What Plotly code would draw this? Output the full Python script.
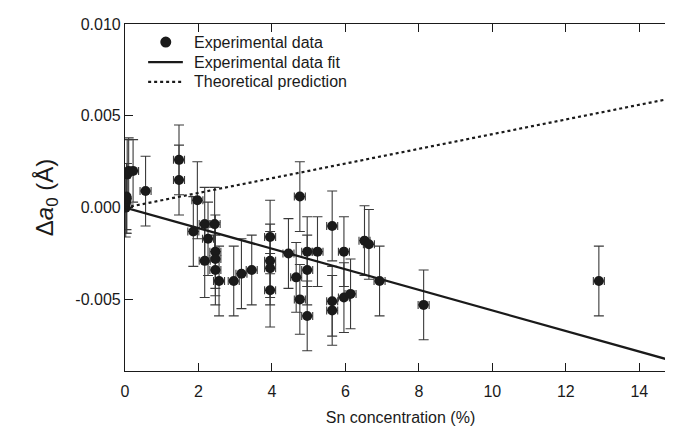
import plotly.graph_objects as go

# Experimental data (Sn concentration %, delta a0 in Angstrom, errors)
sn_conc = [0.02, 0.03, 0.04, 0.05, 0.06, 0.10, 0.22, 0.56, 1.47, 1.47,
           1.97, 1.86, 2.17, 2.26, 2.17, 2.44, 2.46, 2.46, 2.46, 2.56,
           2.96, 3.17, 3.45, 3.95, 3.95, 3.95, 3.95, 4.45, 4.66, 4.76,
           4.76, 4.96, 4.96, 4.96, 5.24, 5.64, 5.64, 5.64, 5.96, 5.96,
           6.14, 6.52, 6.64, 6.93, 8.13, 12.90]
delta_a0 = [0.0000, 0.0003, 0.0006, 0.0005, 0.0018, 0.0020, 0.0020, 0.0009, 0.0026, 0.0015,
            0.0004, -0.0013, -0.0009, -0.0017, -0.0029, -0.0009, -0.0024, -0.0028, -0.0034, -0.0040,
            -0.0040, -0.0036, -0.0034, -0.0016, -0.0029, -0.0033, -0.0045, -0.0025, -0.0038, 0.0006,
            -0.0050, -0.0024, -0.0034, -0.0059, -0.0024, -0.0010, -0.0051, -0.0056, -0.0024, -0.0049,
            -0.0047, -0.0018, -0.0020, -0.0040, -0.0053, -0.0040]
y_err = [0.0016, 0.0017, 0.0018, 0.0019, 0.0019, 0.0018, 0.0017, 0.0019, 0.0019, 0.0019,
         0.0021, 0.0019, 0.0020, 0.0020, 0.0020, 0.0020, 0.0020, 0.0020, 0.0019, 0.0019,
         0.0019, 0.0019, 0.0019, 0.0020, 0.0020, 0.0020, 0.0020, 0.0019, 0.0019, 0.0019,
         0.0019, 0.0019, 0.0019, 0.0019, 0.0019, 0.0019, 0.0019, 0.0019, 0.0019, 0.0019,
         0.0019, 0.0019, 0.0019, 0.0019, 0.0019, 0.0019]
x_err = [0.05, 0.05, 0.05, 0.05, 0.05, 0.05, 0.15, 0.15, 0.15, 0.15,
         0.15, 0.15, 0.15, 0.15, 0.15, 0.15, 0.15, 0.15, 0.15, 0.15,
         0.15, 0.15, 0.15, 0.15, 0.15, 0.15, 0.15, 0.15, 0.15, 0.15,
         0.15, 0.15, 0.15, 0.15, 0.15, 0.15, 0.15, 0.15, 0.15, 0.15,
         0.15, 0.15, 0.15, 0.15, 0.15, 0.15]

# Fit and theory lines (endpoints)
line_x = [0, 15]
fit_y = [0.0, -0.0084]
theory_y = [0.0, 0.0060]

x_tickvals = [0, 2, 4, 6, 8, 10, 12, 14]
x_ticktext = ["0", "2", "4", "6", "8", "10", "12", "14"]
y_tickvals = [-0.005, 0.0, 0.005, 0.010]
y_ticktext = ["-0.005", "0.000", "0.005", "0.010"]

legend_labels = ["Experimental data", "Experimental data fit", "Theoretical prediction"]

font_family = "Liberation Sans, Arial, sans-serif"
ink = "#1a1a1a"

fig = go.Figure()

fig.add_trace(go.Scatter(
    x=sn_conc, y=delta_a0, mode="markers", name=legend_labels[0],
    marker=dict(color=ink, size=10, symbol="circle"),
    error_y=dict(type="data", array=y_err, visible=True, color="#3a3a3a", thickness=1.1, width=5),
    error_x=dict(type="data", array=x_err, visible=True, color="#3a3a3a", thickness=1.1, width=4),
))
fig.add_trace(go.Scatter(
    x=line_x, y=fit_y, mode="lines", name=legend_labels[1],
    line=dict(color=ink, width=2.2),
))
fig.add_trace(go.Scatter(
    x=line_x, y=theory_y, mode="lines", name=legend_labels[2],
    line=dict(color=ink, width=2.2, dash="dot"),
))

# Manual legend (tighter row spacing than Plotly's built-in legend)
row_y = [0.948, 0.890, 0.833]
sym_x0, sym_x1, sym_xc, text_x = 0.042, 0.105, 0.074, 0.1216
shapes = [
    dict(type="circle", xref="paper", yref="paper", xsizemode="pixel", ysizemode="pixel",
         xanchor=sym_xc, yanchor=row_y[0], x0=-5.5, x1=5.5, y0=-5.5, y1=5.5,
         fillcolor=ink, line=dict(color=ink, width=0)),
    dict(type="line", xref="paper", yref="paper", x0=sym_x0, x1=sym_x1, y0=row_y[1], y1=row_y[1],
         line=dict(color=ink, width=2.2)),
    dict(type="line", xref="paper", yref="paper", x0=sym_x0, x1=sym_x1, y0=row_y[2], y1=row_y[2],
         line=dict(color=ink, width=2.2, dash="dot")),
]
annotations = [
    dict(text=lab, xref="paper", yref="paper", x=text_x, y=ry, xanchor="left", yanchor="middle",
         showarrow=False, font=dict(family=font_family, size=16, color=ink))
    for lab, ry in zip(legend_labels, row_y)
]

axis_common = dict(
    showgrid=False, zeroline=False, showline=True, linecolor=ink, linewidth=1.2,
    ticks="inside", ticklen=8, tickwidth=1.2, tickcolor=ink, mirror="ticks",
    tickfont=dict(family=font_family, size=16, color=ink),
)

fig.update_layout(
    width=673, height=426,
    margin=dict(l=117, r=5, t=16, b=63),
    paper_bgcolor="white", plot_bgcolor="white",
    font=dict(family=font_family, color=ink),
    showlegend=False,
    shapes=shapes,
    annotations=annotations,
    xaxis=dict(range=[0, 15], tickvals=x_tickvals, ticktext=x_ticktext, ticklabelstandoff=6,
               title=dict(text="Sn concentration (%)", font=dict(family=font_family, size=16, color=ink), standoff=12),
               **axis_common),
    yaxis=dict(range=[-0.0089, 0.010], tickvals=y_tickvals, ticktext=y_ticktext,
               title=dict(text="Δ<i>a</i><sub>0</sub> (Å)", font=dict(family=font_family, size=24, color=ink), standoff=14),
               **axis_common),
)

fig.write_html("out.html")
